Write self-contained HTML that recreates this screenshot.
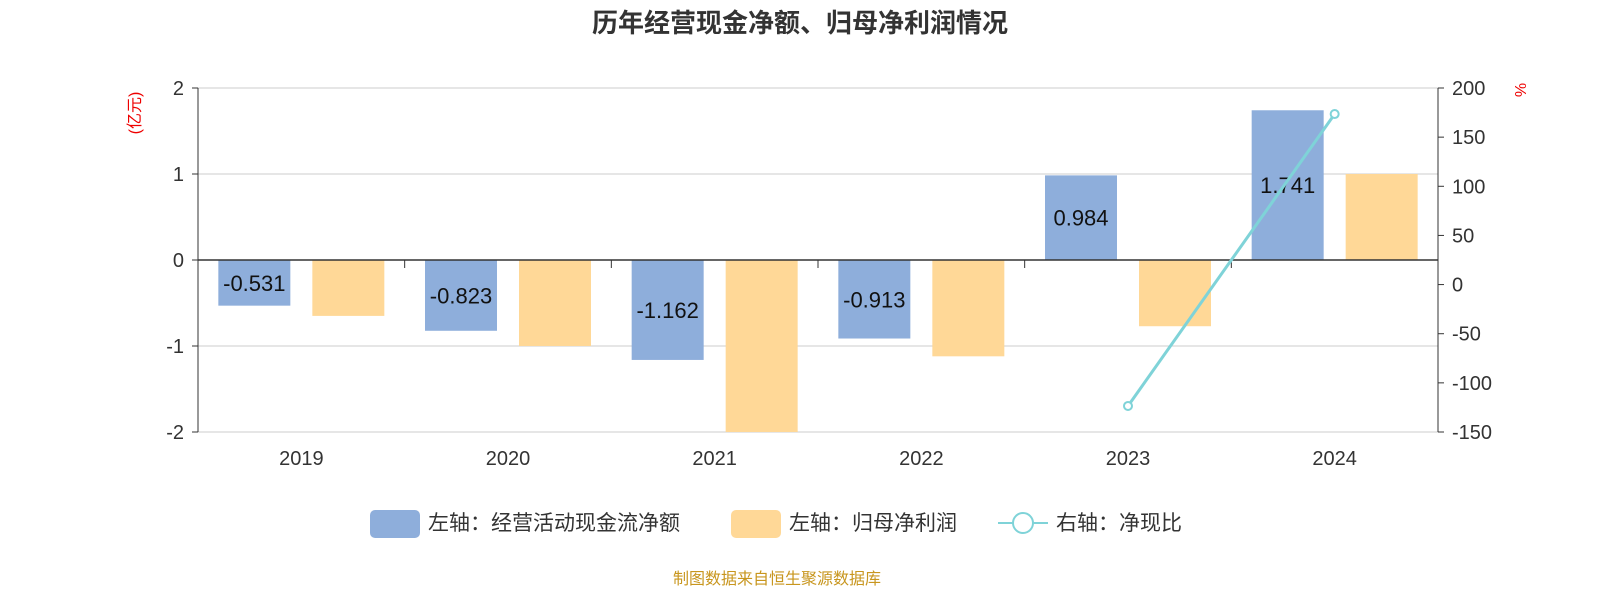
<!DOCTYPE html>
<html><head><meta charset="utf-8"><style>
body{margin:0;background:#fff;font-family:"Liberation Sans","Noto Sans CJK SC",sans-serif;}
</style></head><body>
<svg id="chart" width="1600" height="600" xmlns="http://www.w3.org/2000/svg" font-family="Liberation Sans, Noto Sans CJK SC, sans-serif"></svg>
<script>
const categories=["2019","2020","2021","2022","2023","2024"];
const cashFlow=[-0.531,-0.823,-1.162,-0.913,0.984,1.741];
const netProfit=[-0.65,-1.0,-2.0,-1.12,-0.77,1.0];
const ratio=[null,null,null,null,-123.5,173.5];
const leftTicks=[2,1,0,-1,-2];
const rightTicks=[200,150,100,50,0,-50,-100,-150];

const svg=document.getElementById('chart');
const NS='http://www.w3.org/2000/svg';
const X0=198,X1=1438,Y0=88,Y1=432;
const band=(X1-X0)/categories.length;
const yL=v=>Y0+(2-v)/4*(Y1-Y0);
const yR=v=>Y0+(200-v)/350*(Y1-Y0);
const xC=i=>X0+band*(i+0.5);
function mk(tag,attrs,text){const e=document.createElementNS(NS,tag);for(const k in attrs)e.setAttribute(k,attrs[k]);if(text!=null)e.textContent=text;svg.appendChild(e);return e;}

let t=mk('text',{x:800,y:32,'text-anchor':'middle','font-size':26,'font-weight':'bold',fill:'#333'},'历年经营现金净额、归母净利润情况');


leftTicks.forEach(v=>{
 if(v!==0){const g=mk('line',{x1:X0,x2:X1,y1:yL(v),y2:yL(v),stroke:'#ccc','stroke-width':1});
 }
 const l=mk('text',{x:X0-14,y:yL(v)+7,'text-anchor':'end','font-size':20,fill:'#333'},String(v));
 
 mk('line',{x1:X0-6,x2:X0,y1:yL(v),y2:yL(v),stroke:'#333'});
});
rightTicks.forEach(v=>{
 const l=mk('text',{x:X1+14,y:yR(v)+7,'font-size':20,fill:'#333'},String(v));
 
 mk('line',{x1:X1,x2:X1+6,y1:yR(v),y2:yR(v),stroke:'#333'});
});
let u=mk('text',{x:140,y:113,'font-size':16,fill:'#e00','text-anchor':'middle',transform:'rotate(-90 140 113)'},'(亿元)');

u=mk('text',{x:1515,y:90,'font-size':16,fill:'#e00','text-anchor':'middle',transform:'rotate(90 1515 90)'},'%');


const bw=72;
categories.forEach((c,i)=>{
 const cx=xC(i);
 const v=cashFlow[i];
 let b=mk('rect',{x:cx-83,y:Math.min(yL(v),yL(0)),width:bw,height:Math.abs(yL(v)-yL(0)),fill:'#8eaedb'});
 
 const p=netProfit[i];
 b=mk('rect',{x:cx+11,y:Math.min(yL(p),yL(0)),width:bw,height:Math.abs(yL(p)-yL(0)),fill:'#ffd897'});
 
 const lb=mk('text',{x:cx-47,y:(yL(v)+yL(0))/2+8,'text-anchor':'middle','font-size':22,fill:'#111'},v.toFixed(3));
 
 const cl=mk('text',{x:cx,y:465,'text-anchor':'middle','font-size':20,fill:'#333'},c);
 
 if(i>0)mk('line',{x1:X0+band*i,x2:X0+band*i,y1:yL(0),y2:yL(0)+8,stroke:'#333'});
});
mk('line',{x1:X0,x2:X1,y1:yL(0),y2:yL(0),stroke:'#333','stroke-width':1.5});
let ax=mk('line',{x1:X0,x2:X0,y1:Y0,y2:Y1,stroke:'#333'});
ax=mk('line',{x1:X1,x2:X1,y1:Y0,y2:Y1,stroke:'#333'});

const pts=[];ratio.forEach((v,i)=>{if(v!=null)pts.push([xC(i),yR(v)]);});
const ln=mk('polyline',{points:pts.map(p=>p.join(',')).join(' '),fill:'none',stroke:'#7fd3d8','stroke-width':3});

pts.forEach(p=>{const c=mk('circle',{cx:p[0],cy:p[1],r:4,fill:'#fff',stroke:'#7fd3d8','stroke-width':2});
 });

function leg(x,name,kind,label){
 if(kind==='line'){mk('line',{x1:x,x2:x+50,y1:523,y2:523,stroke:'#7fd3d8','stroke-width':2});
  mk('circle',{cx:x+25,cy:523,r:10,fill:'#fff',stroke:'#7fd3d8','stroke-width':2});}
 else mk('rect',{x:x,y:510,width:50,height:28,rx:5,fill:kind});
 const e=mk('text',{x:x+58,y:530,'font-size':21,fill:'#333'},label);
 
}
leg(370,'legend-cash-flow','#8eaedb','左轴：经营活动现金流净额');
leg(731,'legend-net-profit','#ffd897','左轴：归母净利润');
leg(998,'legend-ratio','line','右轴：净现比');
const s=mk('text',{x:777,y:584,'text-anchor':'middle','font-size':16,fill:'#c8961e'},'制图数据来自恒生聚源数据库');

</script>
</body></html>
